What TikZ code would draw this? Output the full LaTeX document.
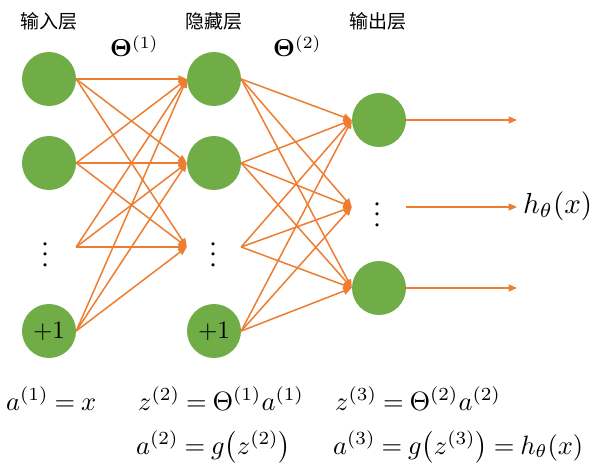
\documentclass[tikz,border=0pt]{standalone}
\usepackage{graphicx}
\usepackage[no-math]{fontspec}
\setmainfont{Liberation Serif}
\newfontfamily\cjk{Noto Sans CJK SC}
\usetikzlibrary{arrows.meta}
\definecolor{nodegreen}{HTML}{70AD47}
\definecolor{edgeorange}{HTML}{ED7D31}
% formulas are set at 10pt and enlarged with \scalebox
\newcommand{\sized}[2]{\scalebox{#1}{\fontsize{10}{12}\selectfont\thickmuskip=4mu #2}}
\begin{document}
\begin{tikzpicture}[x=1pt,y=-1pt,
  neuron/.style={circle,fill=nodegreen,minimum size=54pt,inner sep=0pt},
  gapnode/.style={circle,minimum size=54pt,inner sep=0pt},
  edge/.style={draw=edgeorange,line width=1.5pt,-{Triangle[length=8.5pt,width=7pt]}},
  layerlabel/.style={font=\cjk\fontsize{19}{19}\selectfont,inner sep=0pt},
  txt/.style={anchor=base west,inner sep=0pt}]
\useasboundingbox (0,0) rectangle (600,476);

% layer labels
\node[layerlabel] (l1) at (48.5,21) {输入层};
\node[layerlabel] (l2) at (214,21) {隐藏层};
\node[layerlabel] (l3) at (378,21) {输出层};

% weight labels
\node[txt] (t1) at (110,57) {\sized{2.45}{$\mathbf{\Theta}^{(1)}$}};
\node[txt] (t2) at (273,57) {\sized{2.45}{$\mathbf{\Theta}^{(2)}$}};

% input layer
\node[neuron] (i1) at (49,79) {};
\node[neuron] (i2) at (49,163) {};
\node[gapnode] (id) at (49,247) {\hspace*{-8pt}\sized{2.6}{$\vdots$}};
\node[neuron] (ib) at (49,331) {\sized{2.5}{$+1$}};

% hidden layer
\node[neuron] (h1) at (214,79) {};
\node[neuron] (h2) at (214,163) {};
\node[gapnode] (hd) at (214,247) {\hspace*{-2pt}\sized{2.6}{$\vdots$}};
\node[neuron] (hb) at (214,331) {\sized{2.5}{$+1$}};

% output layer
\node[neuron] (o1) at (379,120) {};
\node[gapnode] (od) at (379,207) {\hspace*{-4pt}\sized{2.6}{$\vdots$}};
\node[neuron] (o2) at (379,288) {};

% input -> hidden
\foreach \s in {i1,i2,id,ib}
  \foreach \t in {h1,h2,hd}
    \draw[edge] (\s.east) -- (\t.west);

% hidden -> output
\foreach \s in {h1,h2,hd,hb}
  \foreach \t in {o1,od,o2}
    \draw[edge] (\s.east) -- (\t.west);

% outputs
\coordinate (x1) at (517,120);
\coordinate (xd) at (517,207);
\coordinate (x2) at (517,288);
\draw[edge] (o1.east) -- (x1);
\draw[edge] (od.east) -- (xd);
\draw[edge] (o2.east) -- (x2);
\node[txt] (hx) at (523,213) {\sized{2.9}{$h_\theta(x)$}};

% equations
\node[txt] (e1) at (6,410) {\sized{2.65}{$a^{(1)} = x$}};
\node[txt] (e2) at (138,410) {\sized{2.65}{$z^{(2)} = \Theta^{(1)}a^{(1)}$}};
\node[txt] (e3) at (335,410) {\sized{2.65}{$z^{(3)} = \Theta^{(2)}a^{(2)}$}};
\node[txt] (e4) at (136,454) {\sized{2.65}{$a^{(2)} = g\bigl(z^{(2)}\bigr)$}};
\node[txt] (e5) at (333,454) {\sized{2.65}{$a^{(3)} = g\bigl(z^{(3)}\bigr) = h_\theta(x)$}};
\end{tikzpicture}
\end{document}
